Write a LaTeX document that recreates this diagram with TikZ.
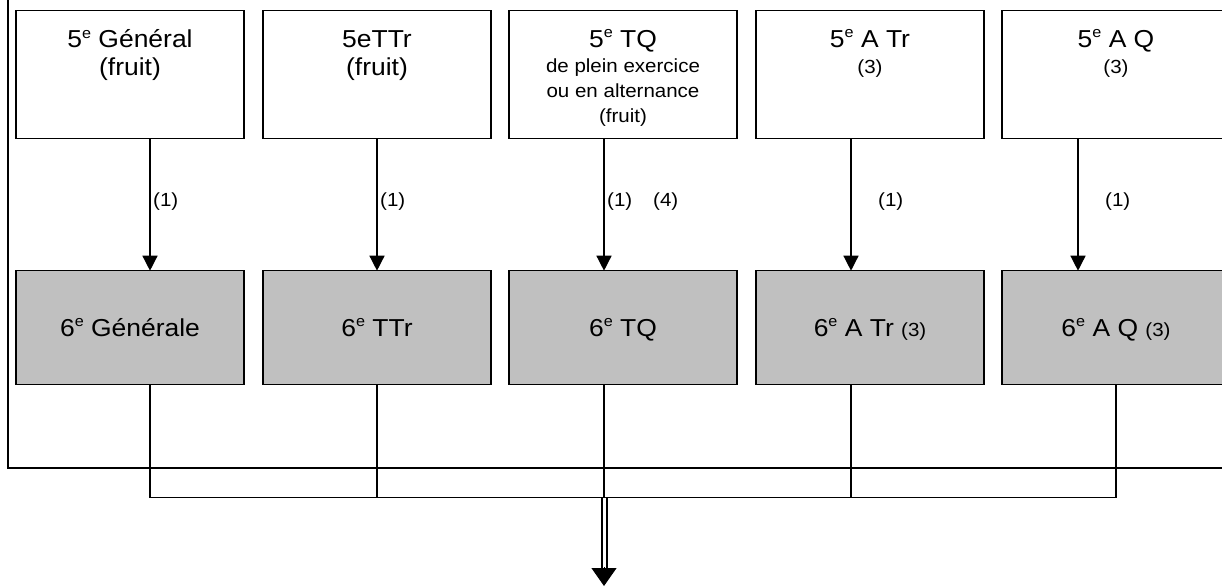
\documentclass[tikz,border=0pt]{standalone}
\usepackage{fontspec}
\setmainfont{Liberation Sans}[FakeStretch=1.08]
\usetikzlibrary{arrows.meta,calc}
\definecolor{boxgray}{RGB}{192,192,192}
\newcommand\sue{\raisebox{0.4em}{\fontsize{15}{15}\selectfont e}}
\newcommand\bigf{\fontsize{24.5}{28}\selectfont}
\newcommand\smallf{\fontsize{19}{25}\selectfont}
\newcommand\topcontent[1]{\parbox[c][127.6pt][t]{228pt}{\centering #1}}
\newcommand\botcontent[1]{\parbox[c][114pt][t]{228pt}{\centering\bigf\rule{0pt}{66pt}#1\par}}
\tikzset{
  box/.style={draw=black, line width=1.5pt, inner sep=0pt, outer sep=0pt, anchor=north west},
  topbox/.style={box, fill=white},
  botbox/.style={box, fill=boxgray},
  conn/.style={line width=1.4pt},
  arr/.style={conn, -{Triangle[length=15pt,width=15pt]}},
  lab/.style={font=\smallf, inner sep=0pt, anchor=base west},
  frameline/.style={line width=2pt},
  dbl/.style={line width=2pt, double, double distance=3pt},
  bigarr/.style={line width=1pt, -{Triangle[length=18pt,width=25pt]}},
}
\begin{document}
\begin{tikzpicture}[x=1pt,y=-1pt]
\useasboundingbox (0,0) rectangle (1222,586);
\clip (0,0) rectangle (1222,586);
% outer frame (clipped)
\draw[frameline] (7.5,-20) -- (7.5,467.7) -- (1260,467.7);
% top boxes
\node[topbox] (t1) at (16,10.7) {\topcontent{\bigf\rule{0pt}{37.3pt}5\sue{} Général\par (fruit)\par}};
\node[topbox] (t2) at (263,10.7) {\topcontent{\bigf\rule{0pt}{37.3pt}5eTTr\par (fruit)\par}};
\node[topbox] (t3) at (509,10.7) {\topcontent{\bigf\rule{0pt}{36.8pt}5\sue{} TQ\par\smallf de plein exercice\\ ou en alternance\\ (fruit)\par}};
\node[topbox] (t4) at (756,10.7) {\topcontent{\bigf\rule{0pt}{36.8pt}5\sue{} A Tr\par\fontsize{19}{26.5}\selectfont (3)\par}};
\node[topbox] (t5) at (1002,10.7) {\topcontent{\bigf\rule{0pt}{36.8pt}5\sue{} A Q\par\fontsize{19}{26.5}\selectfont (3)\par}};
% bottom boxes
\node[botbox] (b1) at (16,270.7) {\botcontent{6\sue{} Générale}};
\node[botbox] (b2) at (263,270.7) {\botcontent{6\sue{} TTr}};
\node[botbox] (b3) at (509,270.7) {\botcontent{6\sue{} TQ}};
\node[botbox] (b4) at (756,270.7) {\botcontent{6\sue{} A Tr {\smallf (3)}}};
\node[botbox] (b5) at (1002,270.7) {\botcontent{6\sue{} A Q {\smallf (3)}}};
% arrows between rows
\draw[arr] ([xshift=20pt]t1.south) -- ([xshift=20pt]b1.north);
\draw[arr] (t2.south) -- (b2.north);
\draw[arr] ([xshift=-19pt]t3.south) -- ([xshift=-19pt]b3.north);
\draw[arr] ([xshift=-19pt]t4.south) -- ([xshift=-19pt]b4.north);
\draw[arr] ([xshift=-38pt]t5.south) -- ([xshift=-38pt]b5.north);
% labels
\node[lab] (l1) at ($(t1.south)+(23,67.7)$) {(1)};
\node[lab] (l2) at ($(t2.south)+(3,67.7)$) {(1)};
\node[lab] (l3) at ($(t3.south)+(-16,67.7)$) {(1)};
\node[lab] (l4) at ($(t3.south)+(30,67.7)$) {(4)};
\node[lab] (l5) at ($(t4.south)+(8,67.7)$) {(1)};
\node[lab] (l6) at ($(t5.south)+(-11,67.7)$) {(1)};
% collector
\coordinate (bus) at ($(b3.south)+(-19,113)$);
\coordinate (tip) at ($(bus)+(0,88.3)$);
\draw[conn] ([xshift=20pt]b1.south) |- (b5.south |- bus) -- (b5.south);
\draw[conn] (b2.south) -- (b2.south |- bus);
\draw[conn] ([xshift=-19pt]b3.south) -- (bus);
\draw[conn] ([xshift=-19pt]b4.south) -- ([xshift=-19pt]b4.south |- bus);
% final double arrow
\draw[dbl] (bus) -- ($(tip)+(0,-17)$);
\draw[bigarr] ($(tip)+(0,-19)$) -- (tip);
\end{tikzpicture}
\end{document}
